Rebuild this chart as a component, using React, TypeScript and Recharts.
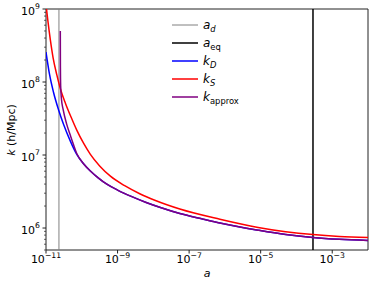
import React from 'react';
import {
  LineChart,
  Line,
  XAxis,
  YAxis,
  ReferenceLine,
  ReferenceArea,
} from 'recharts';

// values (log-log plot)
const aD = 2.3e-11;
const aEq = 2.9e-4;

const kDA = [1e-11, 1.26e-11, 1.62e-11, 2.24e-11, 3.09e-11, 4.79e-11, 7.24e-11, 1.12e-10, 1.74e-10, 2.82e-10, 5.01e-10, 1e-9, 2.51e-9, 6.31e-9, 1.58e-8, 5.5e-8, 2.51e-7, 7.24e-7, 8.51e-6, 5.01e-5, 2.88e-4, 1.58e-3, 1e-2];
const kD = [2.57e8, 1.26e8, 7.24e7, 4.17e7, 2.63e7, 1.55e7, 1.02e7, 7.59e6, 6.03e6, 4.9e6, 3.98e6, 3.31e6, 2.69e6, 2.24e6, 1.91e6, 1.58e6, 1.32e6, 1.17e6, 9.33e5, 8.13e5, 7.41e5, 7.0e5, 6.76e5];

const kSA = [1e-11, 1.12e-11, 1.32e-11, 1.58e-11, 2.0e-11, 2.51e-11, 3.55e-11, 5.01e-11, 7.24e-11, 1.12e-10, 1.74e-10, 3.16e-10, 6.31e-10, 1.58e-9, 4.17e-9, 1.1e-8, 5.5e-8, 7.24e-7, 8.51e-6, 5.01e-5, 2.88e-4, 1.58e-3, 1e-2];
const kS = [1.15e9, 7.08e8, 3.8e8, 2.14e8, 1.26e8, 8.13e7, 5.01e7, 3.31e7, 2.19e7, 1.45e7, 1.02e7, 7.08e6, 5.13e6, 3.8e6, 2.95e6, 2.4e6, 1.82e6, 1.32e6, 1.02e6, 8.91e5, 8.13e5, 7.67e5, 7.41e5];

const kApproxA = [2.512e-11, 2.529e-11, 2.57e-11, 2.69e-11, 3.02e-11, 3.8e-11, 4.79e-11, 5.89e-11, 7.24e-11, 1.12e-10, 1.74e-10, 2.82e-10, 5.01e-10, 1e-9, 2.51e-9, 6.31e-9, 1.58e-8, 5.5e-8, 2.51e-7, 7.24e-7, 8.51e-6, 5.01e-5, 2.88e-4, 1.58e-3, 1e-2];
const kApprox = [5.0e8, 1.58e8, 8.9e7, 6.0e7, 4.17e7, 2.63e7, 1.86e7, 1.38e7, 1.05e7, 7.59e6, 6.03e6, 4.9e6, 3.98e6, 3.31e6, 2.69e6, 2.24e6, 1.91e6, 1.58e6, 1.32e6, 1.17e6, 9.33e5, 8.13e5, 7.41e5, 7.0e5, 6.76e5];

const xTicks = [1e-11, 1e-9, 1e-7, 1e-5, 1e-3];
const yTicks = [
  5e5, 6e5, 7e5, 8e5, 9e5,
  1e6, 2e6, 3e6, 4e6, 5e6, 6e6, 7e6, 8e6, 9e6,
  1e7, 2e7, 3e7, 4e7, 5e7, 6e7, 7e7, 8e7, 9e7,
  1e8, 2e8, 3e8, 4e8, 5e8, 6e8, 7e8, 8e8, 9e8,
  1e9,
];

const toRows = (xs: number[], ys: number[]) => xs.map((a, i) => ({ a, k: ys[i] }));
const kDRows = toRows(kDA, kD);
const kSRows = toRows(kSA, kS);
const kApproxRows = toRows(kApproxA, kApprox);

const FONT = '"DejaVu Sans", sans-serif';
const PLOT_LEFT = 46;
const PLOT_BOTTOM = 250;
const AXIS = '#222';

const expOf = (v: number) => Math.round(Math.log10(v));
const isMajor = (v: number) => Math.abs(Math.log10(v) - expOf(v)) < 1e-9;
const supText = (e: number) => (e < 0 ? '\u2212' + Math.abs(e) : String(e));

const XTick = (props: any) => {
  const { x, payload } = props;
  const e = expOf(payload.value);
  return (
    <g>
      <line x1={x} x2={x} y1={PLOT_BOTTOM} y2={PLOT_BOTTOM + 3.5} stroke={AXIS} />
      <text x={x} y={PLOT_BOTTOM + 13} textAnchor="middle" fontSize={11} fill="#000" fontFamily={FONT}>
        <tspan>10</tspan>
        <tspan dy={-5} fontSize={7.7}>{supText(e)}</tspan>
      </text>
    </g>
  );
};

const YTick = (props: any) => {
  const { y, payload } = props;
  const major = isMajor(payload.value);
  return (
    <g>
      <line x1={PLOT_LEFT - (major ? 3.5 : 2)} x2={PLOT_LEFT} y1={y} y2={y} stroke={AXIS} strokeWidth={major ? 1 : 0.7} />
      {major && (
        <text x={PLOT_LEFT - 6} y={y + 5.5} textAnchor="end" fontSize={11} fill="#000" fontFamily={FONT}>
          <tspan>10</tspan>
          <tspan dy={-5.5} fontSize={7.7}>{supText(expOf(payload.value))}</tspan>
        </text>
      )}
    </g>
  );
};

const legendItems = [
  { color: '#808080', width: 1, main: 'a', sub: 'd', subItalic: true },
  { color: '#000000', width: 1.5, main: 'a', sub: 'eq', subItalic: false },
  { color: '#0000ff', width: 1.5, main: 'k', sub: 'D', subItalic: true },
  { color: '#ff0000', width: 1.5, main: 'k', sub: 'S', subItalic: true },
  { color: '#800080', width: 1.5, main: 'k', sub: 'approx', subItalic: false },
];

export default function App() {
  return (
    <div style={{ position: 'relative', width: 374, height: 286, background: '#fff' }}>
      <style>{'body{margin:0}'}</style>
      <LineChart width={374} height={286} margin={{ top: 9, right: 6, bottom: 0, left: 0 }}>
        <XAxis
          type="number"
          dataKey="a"
          scale="log"
          domain={[1e-11, 1e-2]}
          allowDataOverflow
          ticks={xTicks}
          interval={0}
          tick={<XTick />}
          tickLine={false}
          axisLine={false}
          tickSize={0}
          height={36}
        />
        <YAxis
          type="number"
          dataKey="k"
          scale="log"
          domain={[5e5, 1e9]}
          allowDataOverflow
          ticks={yTicks}
          interval={0}
          tick={<YTick />}
          tickLine={false}
          axisLine={false}
          tickSize={0}
          width={46}
        />
        <ReferenceLine x={aD} stroke="#808080" strokeWidth={1} />
        <ReferenceLine x={aEq} stroke="#000" strokeWidth={1.5} />
        <Line data={kDRows} dataKey="k" type="monotone" stroke="#0000ff" strokeWidth={1.5} dot={false} isAnimationActive={false} />
        <Line data={kSRows} dataKey="k" type="monotone" stroke="#ff0000" strokeWidth={1.5} dot={false} isAnimationActive={false} />
        <Line data={kApproxRows} dataKey="k" type="monotone" stroke="#800080" strokeWidth={1.5} dot={false} isAnimationActive={false} />
        <ReferenceArea x1={1e-11} x2={1e-2} y1={5e5} y2={1e9} fill="none" stroke={AXIS} strokeWidth={1} />
      </LineChart>
      <svg
        width={374}
        height={286}
        style={{ position: 'absolute', left: 0, top: 0, pointerEvents: 'none' }}
        fontFamily={FONT}
      >
        {legendItems.map((it, i) => {
          const y = 25 + i * 18;
          return (
            <g key={i}>
              <line x1={172} x2={198} y1={y} y2={y} stroke={it.color} strokeWidth={it.width} />
              <text x={203} y={y + 4} fontSize={12} fill="#000">
                <tspan fontStyle="italic">{it.main}</tspan>
                <tspan dy={3} fontSize={8.4} fontStyle={it.subItalic ? 'italic' : 'normal'}>{it.sub}</tspan>
              </text>
            </g>
          );
        })}
        <text x={207} y={277} textAnchor="middle" fontSize={11} fontStyle="italic" fill="#000">a</text>
        <text x={15} y={130} transform="rotate(-90 15 130)" textAnchor="middle" fontSize={11} fill="#000">
          <tspan fontStyle="italic">k</tspan>
          <tspan> (h/Mpc)</tspan>
        </text>
      </svg>
    </div>
  );
}
